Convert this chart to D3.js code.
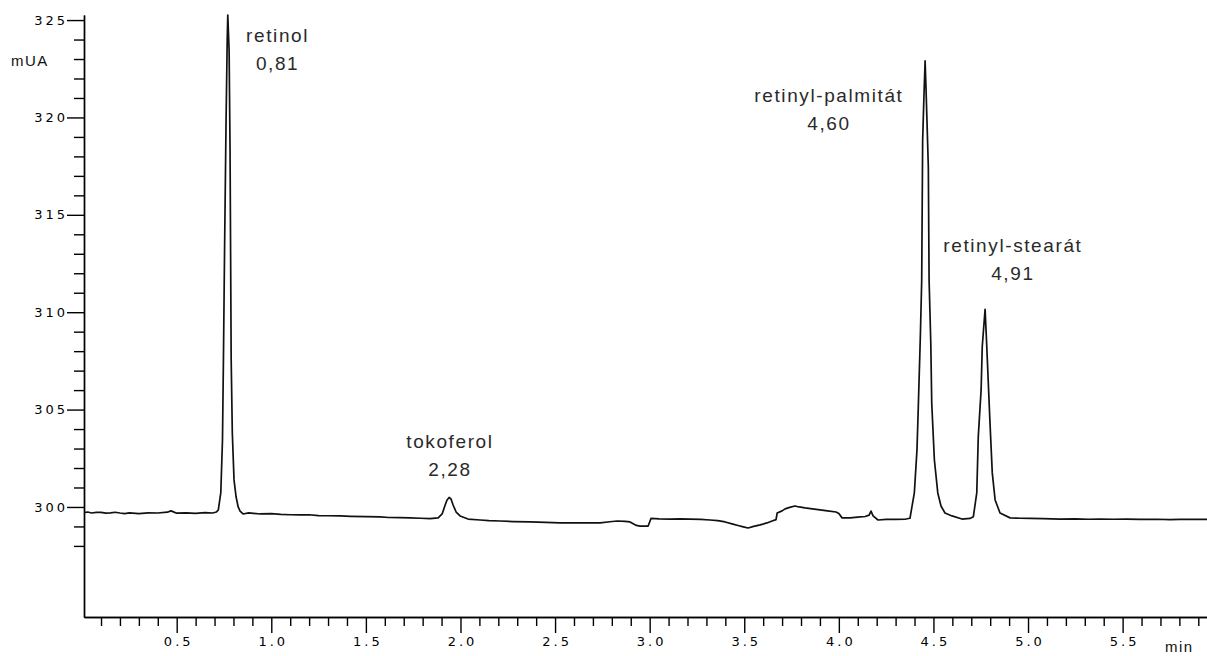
<!DOCTYPE html>
<html>
<head>
<meta charset="utf-8">
<script src="https://cdn.jsdelivr.net/npm/d3@7"></script>
<style>
  body { margin: 0; background: #fff; }
  svg { display: block; }
</style>
</head>
<body>
<svg id="chart" width="1207" height="656"></svg>
<script>
// Detector trace: retention time (min) and absorbance (mAU)
const timeMin = [
  0.010, 0.030, 0.050, 0.075, 0.100, 0.125, 0.150, 0.175, 0.200, 0.225, 0.250, 0.300, 0.350, 0.400, 0.450, 0.470, 0.480, 0.500, 0.550, 0.600, 0.650, 0.690, 0.710,
  0.720, 0.733, 0.742, 0.747, 0.753, 0.761, 0.767, 0.770, 0.777, 0.782, 0.788, 0.794, 0.803, 0.814, 0.825, 0.835, 0.851,
  0.880, 0.941, 1.000, 1.050, 1.100, 1.152, 1.200, 1.250, 1.300, 1.364, 1.420, 1.500, 1.575, 1.620, 1.680, 1.734, 1.790, 1.839, 1.882,
  1.903, 1.919, 1.929, 1.940, 1.950, 1.961, 1.977, 1.998, 2.040, 2.104,
  2.150, 2.209, 2.280, 2.368, 2.450, 2.526, 2.606, 2.680, 2.738, 2.790, 2.828, 2.870, 2.896, 2.930, 2.949, 2.992, 3.007,
  3.050, 3.108, 3.160, 3.214, 3.270, 3.319, 3.360, 3.399, 3.440, 3.467, 3.495, 3.520, 3.550, 3.584, 3.620, 3.647, 3.668,
  3.674, 3.700, 3.716, 3.740, 3.768, 3.790, 3.821, 3.860, 3.901, 3.940, 3.985, 4.000, 4.017, 4.059, 4.100, 4.139, 4.160, 4.170,
  4.181, 4.207, 4.250, 4.297, 4.355,
  4.376, 4.399, 4.413, 4.420, 4.431, 4.438, 4.443, 4.450, 4.456, 4.461, 4.473, 4.477, 4.486, 4.491, 4.505, 4.523, 4.540,
  4.561, 4.598, 4.651, 4.693,
  4.711, 4.729, 4.737, 4.752, 4.758, 4.773, 4.782, 4.790, 4.799, 4.811, 4.826, 4.852, 4.905,
  4.960, 5.011, 5.080, 5.169, 5.250, 5.320, 5.381, 5.450, 5.520, 5.592, 5.680, 5.750, 5.803, 5.880, 5.946
];
const signalMAU = [
  299.71, 299.74, 299.69, 299.72, 299.72, 299.68, 299.70, 299.73, 299.69, 299.66, 299.70, 299.66, 299.70, 299.69, 299.73, 299.80, 299.76, 299.68, 299.70, 299.67, 299.71, 299.69, 299.74,
  299.85, 300.72, 303.44, 307.55, 313.19, 319.87, 323.97, 325.26, 323.46, 318.33, 307.55, 303.80, 301.39, 300.51, 300.00, 299.79, 299.64,
  299.70, 299.64, 299.66, 299.62, 299.60, 299.59, 299.60, 299.56, 299.55, 299.54, 299.52, 299.50, 299.49, 299.46, 299.45, 299.44, 299.42, 299.40, 299.44,
  299.64, 300.10, 300.36, 300.49, 300.41, 300.10, 299.74, 299.54, 299.38, 299.33,
  299.30, 299.28, 299.25, 299.23, 299.21, 299.18, 299.18, 299.19, 299.18, 299.24, 299.28, 299.26, 299.23, 299.05, 299.02, 299.02, 299.41,
  299.39, 299.38, 299.39, 299.38, 299.36, 299.33, 299.30, 299.23, 299.12, 299.05, 298.98, 298.92, 299.00, 299.08, 299.18, 299.28, 299.35,
  299.69, 299.80, 299.90, 299.98, 300.05, 300.00, 299.95, 299.90, 299.85, 299.80, 299.74, 299.66, 299.44, 299.44, 299.48, 299.51, 299.58, 299.79,
  299.54, 299.33, 299.36, 299.36, 299.38,
  299.42, 300.72, 302.93, 305.13, 308.83, 311.65, 318.84, 321.15, 322.90, 321.41, 317.45, 311.65, 308.42, 305.34, 302.41, 300.72, 300.05,
  299.69, 299.54, 299.38, 299.41,
  299.50, 300.72, 303.61, 306.01, 308.23, 310.15, 308.23, 306.37, 304.31, 301.75, 300.36, 299.69, 299.44,
  299.42, 299.41, 299.40, 299.38, 299.39, 299.37, 299.38, 299.37, 299.38, 299.36, 299.37, 299.35, 299.36, 299.37, 299.36
];

// Identified peaks
const peakNames = ["retinol", "tokoferol", "retinyl-palmitát", "retinyl-stearát"];
const peakRetention = ["0,81", "2,28", "4,60", "4,91"];
const peakApexTime = [0.770, 1.940, 4.456, 4.773];
const peakApexSignal = [325.26, 300.49, 322.90, 310.15];

// Axis ticks
const yMajorTicks = [300, 305, 310, 315, 320, 325];
const xMajorTicks = [0.5, 1.0, 1.5, 2.0, 2.5, 3.0, 3.5, 4.0, 4.5, 5.0, 5.5];
const yUnitLabel = "mUA";
const xUnitLabel = "min";

// ---- layout ----
const W = 1207, H = 656;
const axisX = 84, axisY = 617, plotTop = 15;
// label placement relative to each peak apex (dx, dy of first line)
const labelOffsets = [[49, 27], [0, -49], [-97, 41], [27, -57]];
const lineGap = 28;

const svg = d3.select("#chart");
svg.append("rect").attr("width", W).attr("height", H).attr("fill", "#fff");

const x = d3.scaleLinear().domain([0.01, 5.946]).range([axisX, W]);
const y = d3.scaleLinear().domain([294.35, 325.26]).range([axisY, plotTop]);

const tickFont = "'DejaVu Sans', sans-serif";
const labelFont = "'Liberation Sans', Arial, sans-serif";

// minor tick positions: every 0.1 min and every 1 mAU
const xMinorTicks = d3.range(1, 60).map(i => i / 10).filter(v => Math.abs(v * 2 - Math.round(v * 2)) > 1e-6);
const yMinorTicks = d3.range(298, 325).filter(v => v % 5 !== 0);

// x axis
const gx = svg.append("g").attr("transform", `translate(0,${axisY})`);
gx.call(d3.axisBottom(x).tickValues(xMinorTicks).tickSize(9).tickSizeOuter(0).tickFormat(""));
gx.append("g").call(d3.axisBottom(x).tickValues(xMajorTicks).tickSize(16).tickSizeOuter(0)
  .tickPadding(4).tickFormat(d3.format(".1f")));
gx.selectAll("path.domain").attr("stroke", "#000").attr("stroke-width", 1.4);
gx.selectAll("line").attr("stroke", "#000").attr("stroke-width", 1.4);
gx.selectAll("text")
  .attr("font-family", tickFont).attr("font-size", 13)
  .attr("letter-spacing", "3px").attr("fill", "#000").attr("dx", "1.5px");

// y axis
const gy = svg.append("g").attr("transform", `translate(${axisX},0)`);
gy.call(d3.axisLeft(y).tickValues(yMinorTicks).tickSize(10).tickSizeOuter(0).tickFormat(""));
gy.append("g").call(d3.axisLeft(y).tickValues(yMajorTicks).tickSize(17).tickSizeOuter(0)
  .tickPadding(2).tickFormat(d3.format("d")));
gy.selectAll("path.domain").attr("stroke", "#000").attr("stroke-width", 1.4);
gy.selectAll("line").attr("stroke", "#000").attr("stroke-width", 1.4);
gy.selectAll("text")
  .attr("font-family", tickFont).attr("font-size", 13)
  .attr("letter-spacing", "3px").attr("fill", "#000").attr("dx", "3px");

// unit labels
svg.append("text").attr("x", 11).attr("y", 66).text(yUnitLabel)
  .attr("font-family", labelFont).attr("font-size", 15).attr("letter-spacing", "1.5px").attr("fill", "#111");
svg.append("text").attr("x", 1165).attr("y", 652).text(xUnitLabel)
  .attr("font-family", labelFont).attr("font-size", 15).attr("letter-spacing", "1.5px").attr("fill", "#111");

// trace
const trace = timeMin.map((t, i) => [t, signalMAU[i]]);
svg.append("path")
  .datum(trace)
  .attr("fill", "none")
  .attr("stroke", "#111")
  .attr("stroke-width", 1.7)
  .attr("stroke-linejoin", "round")
  .attr("d", d3.line().x(d => x(d[0])).y(d => y(d[1])));

// peak annotations
const ann = svg.append("g")
  .attr("font-family", labelFont).attr("font-size", 19)
  .attr("letter-spacing", "1.6px").attr("fill", "#2a2a2a").attr("text-anchor", "middle");
peakNames.forEach((name, i) => {
  const cx = x(peakApexTime[i]) + labelOffsets[i][0];
  const by = y(peakApexSignal[i]) + labelOffsets[i][1];
  ann.append("text").attr("x", cx + 0.8).attr("y", by).text(name);
  ann.append("text").attr("x", cx + 0.8).attr("y", by + lineGap).text(peakRetention[i]);
});
</script>
</body>
</html>
